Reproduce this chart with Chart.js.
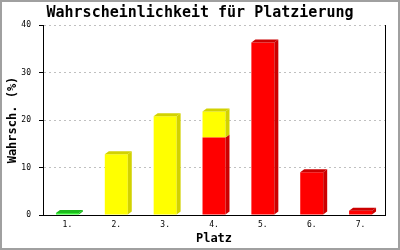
<!DOCTYPE html>
<html>
<head>
<meta charset="utf-8">
<script src="https://cdn.jsdelivr.net/npm/chart.js@4"></script>
<style>
  body { margin: 0; background: #fff; }
  #wrap { width: 400px; height: 250px; }
</style>
</head>
<body>
<div id="wrap"><canvas id="chart" width="400" height="250"></canvas></div>
<script>
var labels = ['1.', '2.', '3.', '4.', '5.', '6.', '7.'];
var redValues = [null, null, null, 16.3, 36.3, 9, 0.9];
var yellowValues = [null, 12.8, 20.8, 5.5, null, null, null];
var greenValues = [0.4, null, null, null, null, null, null];
var yTicks = [0, 10, 20, 30, 40];

// darker shade for the side and top faces
var sideColors = { '#ff0000': '#cc0000', '#ffff00': '#d2d200', '#22ee22': '#1cbb1c' };

var bars3d = {
    id: 'bars3d',
    afterDatasetsDraw: function (chart) {
        var ctx = chart.ctx;
        var dx = 4, dy = 3;
        var tops = {};
        chart.data.datasets.forEach(function (ds, di) {
            ds.data.forEach(function (v, i) {
                if (v !== null) tops[i] = di;
            });
        });
        chart.data.datasets.forEach(function (ds, di) {
            var meta = chart.getDatasetMeta(di);
            ctx.save();
            ctx.fillStyle = sideColors[ds.backgroundColor];
            meta.data.forEach(function (bar, i) {
                if (ds.data[i] === null) return;
                var p = bar.getProps(['x', 'y', 'base', 'width'], true);
                var l = p.x - p.width / 2, r = p.x + p.width / 2;
                ctx.beginPath();
                ctx.moveTo(r, p.y);
                ctx.lineTo(r + dx, p.y - dy);
                ctx.lineTo(r + dx, p.base - dy);
                ctx.lineTo(r, p.base);
                ctx.closePath();
                ctx.fill();
                if (tops[i] === di) {
                    ctx.beginPath();
                    ctx.moveTo(l, p.y);
                    ctx.lineTo(l + dx, p.y - dy);
                    ctx.lineTo(r + dx, p.y - dy);
                    ctx.lineTo(r, p.y);
                    ctx.closePath();
                    ctx.fill();
                }
            });
            ctx.restore();
        });
    }
};

var frame = {
    id: 'frame',
    beforeDraw: function (chart) {
        var ctx = chart.ctx;
        ctx.save();
        ctx.fillStyle = '#fff';
        ctx.fillRect(0, 0, chart.width, chart.height);
        ctx.restore();
    },
    afterDraw: function (chart) {
        var ctx = chart.ctx;
        ctx.save();
        ctx.strokeStyle = '#a0a0a0';
        ctx.lineWidth = 2;
        ctx.strokeRect(1, 1, chart.width - 2, chart.height - 2);
        ctx.restore();
    }
};

var mono = "'DejaVu Sans Mono', monospace";

new Chart(document.getElementById('chart'), {
    type: 'bar',
    data: {
        labels: labels,
        datasets: [
            { data: redValues, backgroundColor: '#ff0000' },
            { data: yellowValues, backgroundColor: '#ffff00' },
            { data: greenValues, backgroundColor: '#22ee22' }
        ]
    },
    options: {
        responsive: false,
        animation: false,
        layout: { padding: 0 },
        datasets: { bar: { categoryPercentage: 1, barPercentage: 0.47 } },
        plugins: {
            legend: { display: false },
            tooltip: { enabled: false },
            title: {
                display: true,
                text: 'Wahrscheinlichkeit für Platzierung',
                color: '#000',
                font: { family: mono, size: 15, weight: 'bold', lineHeight: 1.2 },
                padding: { top: 4, bottom: 3 }
            }
        },
        scales: {
            x: {
                stacked: true,
                grid: { display: false, drawTicks: false, tickLength: 0 },
                border: { display: true, color: '#000', width: 1 },
                ticks: { color: '#000', font: { family: mono, size: 8 }, padding: 5, maxRotation: 0 },
                title: { display: true, text: 'Platz', color: '#000', font: { family: mono, size: 12, weight: 'bold' }, padding: { top: 0, bottom: 4 } },
                afterFit: function (s) { s.height = 35; }
            },
            y: {
                stacked: true,
                min: 0,
                max: 40,
                afterBuildTicks: function (s) { s.ticks = yTicks.map(function (v) { return { value: v }; }); },
                grid: { color: '#c0c0c0', tickColor: '#000', tickLength: 4, lineWidth: 1 },
                border: { display: true, color: '#000', width: 1, dash: [2, 3] },
                ticks: { color: '#000', font: { family: mono, size: 8 }, padding: 8 },
                title: { display: true, text: 'Wahrsch. (%)', color: '#000', font: { family: mono, size: 12, weight: 'bold' }, padding: { top: 6, bottom: 0 } },
                afterFit: function (s) { s.width = 43; }
            },
            yRight: {
                position: 'right',
                min: 0,
                max: 40,
                grid: { display: false, drawTicks: false },
                border: { display: true, color: '#000', width: 1 },
                ticks: { display: false },
                afterFit: function (s) { s.width = 15; }
            }
        }
    },
    plugins: [bars3d, frame]
});
</script>
</body>
</html>
